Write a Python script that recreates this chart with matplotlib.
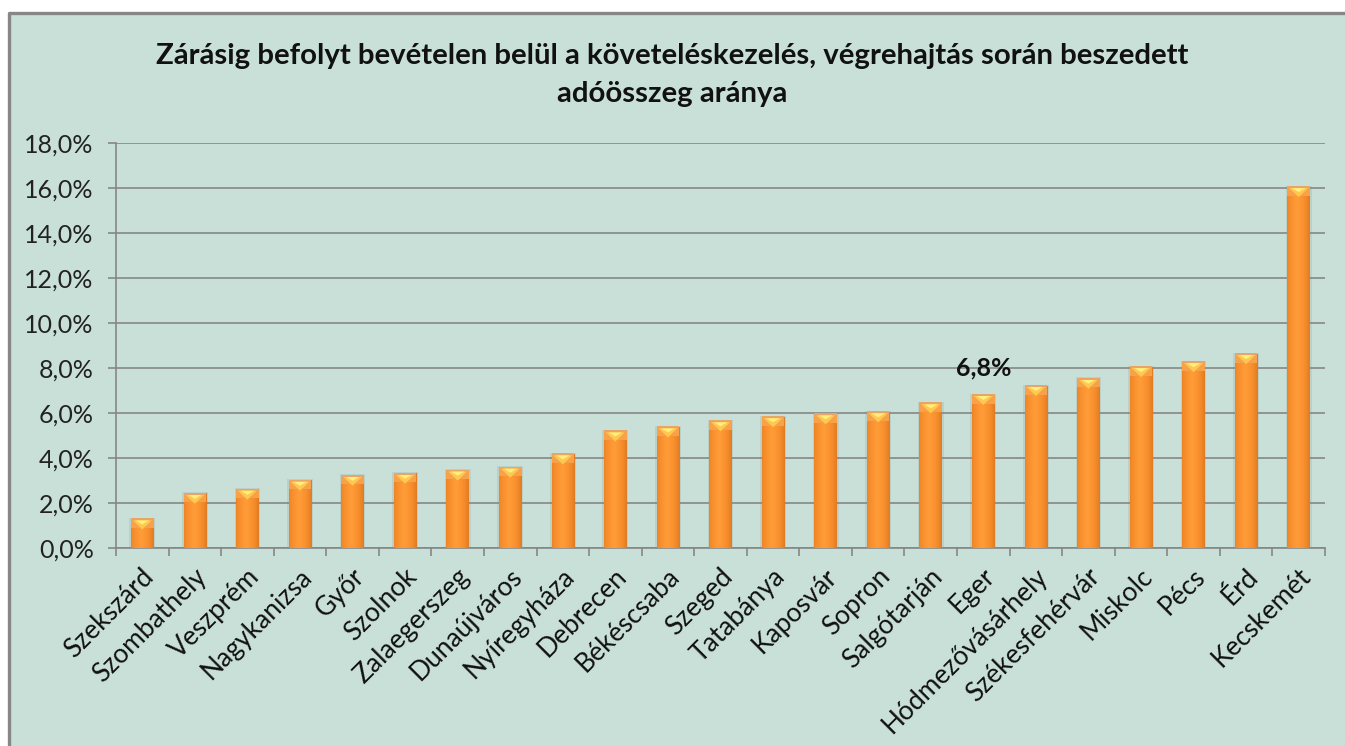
"""
Zárásig befolyt bevételen belül a követeléskezelés, végrehajtás során beszedett adóösszeg aránya
"""

import numpy as np
import matplotlib
matplotlib.use('Agg')
import matplotlib.pyplot as plt
import matplotlib.ticker as ticker
import matplotlib.transforms as mtransforms
from matplotlib.patches import Rectangle, Polygon
from matplotlib.lines import Line2D

# ==================== Data ====================
cities = ['Szekszárd', 'Szombathely', 'Veszprém', 'Nagykanizsa', 'Győr', 'Szolnok',
          'Zalaegerszeg', 'Dunaújváros', 'Nyíregyháza', 'Debrecen', 'Békéscsaba',
          'Szeged', 'Tatabánya', 'Kaposvár', 'Sopron', 'Salgótarján', 'Eger',
          'Hódmezővásárhely', 'Székesfehérvár', 'Miskolc', 'Pécs', 'Érd', 'Kecskemét']
share_pct = [1.30, 2.44, 2.62, 3.02, 3.24, 3.33, 3.47, 3.60, 4.19, 5.21, 5.39,
             5.66, 5.84, 5.97, 6.06, 6.46, 6.83, 7.23, 7.55, 8.07, 8.29, 8.65, 16.07]
highlight = 'Eger'
y_ticks = [0, 2, 4, 6, 8, 10, 12, 14, 16, 18]

TITLE = ('Zárásig befolyt bevételen belül a követeléskezelés, végrehajtás során beszedett\n'
         'adóösszeg aránya')

BG = '#C9E0D8'
GRID = '#868686'
FRAME = '#878787'

plt.rcParams.update({'font.family': ['Lato', 'DejaVu Sans'], 'font.size': 16})

fig = plt.figure(figsize=(13.45, 7.46), dpi=100, facecolor='white')
# chart area background + frame (top and left edges visible)
fx0, fy1 = 8.5 / 1345, 1 - 12.5 / 746
fig.patches.append(Rectangle((fx0, -0.05), 1.1, fy1 + 0.05, transform=fig.transFigure,
                             facecolor=BG, linewidth=0, zorder=-5))
fig.lines.append(Line2D([fx0, fx0, 1.05], [-0.05, fy1, fy1], transform=fig.transFigure,
                        color=FRAME, linewidth=2.4, zorder=-4))

ax = fig.add_axes([116 / 1345, 1 - 548.3 / 746, (1325 - 116) / 1345, (548.3 - 143.3) / 746])
ax.set_facecolor('none')
ax.set_zorder(1)

x = np.arange(len(cities))
bars = ax.bar(x, share_pct, width=0.43, color='#F28A28', zorder=3, linewidth=0)

# gradient shading for each bar
grad = np.linspace(0, 1, 64)
shade = 1 - 0.55 * np.abs(grad - 0.45) ** 1.2 * 2
cmap = matplotlib.colors.LinearSegmentedColormap.from_list(
    'bar', ['#A85210', '#D0701C', '#F58B2A', '#FF9C38'])
for b in bars:
    bx, bw, bh = b.get_x(), b.get_width(), b.get_height()
    # soft halo / shadow
    ax.add_patch(Rectangle((bx - 0.03, 0), bw + 0.06, bh + 0.05, facecolor='#7A8A84',
                           alpha=0.18, linewidth=0, zorder=2))
    im = ax.imshow(shade[np.newaxis, :], cmap=cmap, vmin=0, vmax=1, aspect='auto',
                   extent=(bx, bx + bw, 0, bh), zorder=3, interpolation='bicubic')
    im.set_clip_path(b)
    # top bevel with yellow highlight
    cap = 0.40
    ax.add_patch(Rectangle((bx, bh - cap), bw, cap, facecolor='#F7A14A',
                           linewidth=0, zorder=4))
    ax.add_patch(Polygon([(bx + 0.08 * bw, bh - 0.06), (bx + 0.92 * bw, bh - 0.06),
                          (bx + 0.5 * bw, bh - cap * 1.15)], closed=True,
                         facecolor='#FFC84E', linewidth=0, zorder=5))
    ax.add_patch(Polygon([(bx + 0.2 * bw, bh - 0.06), (bx + 0.8 * bw, bh - 0.06),
                          (bx + 0.5 * bw, bh - cap * 0.6)], closed=True,
                         facecolor='#FFEE80', linewidth=0, zorder=6))
    ax.add_patch(Rectangle((bx, bh - 0.05), bw, 0.08, facecolor='#E9A566',
                           linewidth=0, zorder=6))

ax.set_xlim(-0.5, len(cities) - 0.5)
ax.set_ylim(0, 18)
ax.set_yticks(y_ticks)
ax.yaxis.set_major_formatter(ticker.FuncFormatter(lambda v, p: f'{v:.1f}%'.replace('.', ',')))
ax.grid(axis='y', color=GRID, linewidth=1.2, zorder=1)
ax.set_axisbelow(True)

for s in ['top', 'right']:
    ax.spines[s].set_visible(False)
for s in ['left', 'bottom']:
    ax.spines[s].set_color(GRID)
    ax.spines[s].set_linewidth(1.2)
    ax.spines[s].set_zorder(2)

ax.set_xticks(x)
ax.set_xticks(np.arange(len(cities) + 1) - 0.5, minor=True)
ax.tick_params(axis='x', which='major', length=0, pad=11)
ax.tick_params(axis='x', which='minor', length=6, width=1.2, color=GRID)
ax.tick_params(axis='y', length=6, width=1.2, color=GRID, labelsize=18, pad=10,
               labelcolor='#222222')
ax.set_xticklabels(cities, rotation=45, ha='right', rotation_mode='anchor',
                   fontsize=19, color='#111111')
offset = mtransforms.ScaledTranslation(-1 / 100, 0, fig.dpi_scale_trans)
for lbl in ax.get_xticklabels():
    lbl.set_transform(lbl.get_transform() + offset)

# value label for the highlighted city
i = cities.index(highlight)
ax.text(i, share_pct[i] + 1.2, f'{share_pct[i]:.1f}%'.replace('.', ','),
        ha='center', va='center', fontsize=18, fontweight='bold', color='#111111', zorder=7)

fig.text(0.5, 1 - 75 / 746, TITLE, ha='center', va='center', fontsize=21.2,
         fontweight='bold', color='#111111', linespacing=1.6)

fig.savefig('out.png', dpi=100, facecolor='white')
